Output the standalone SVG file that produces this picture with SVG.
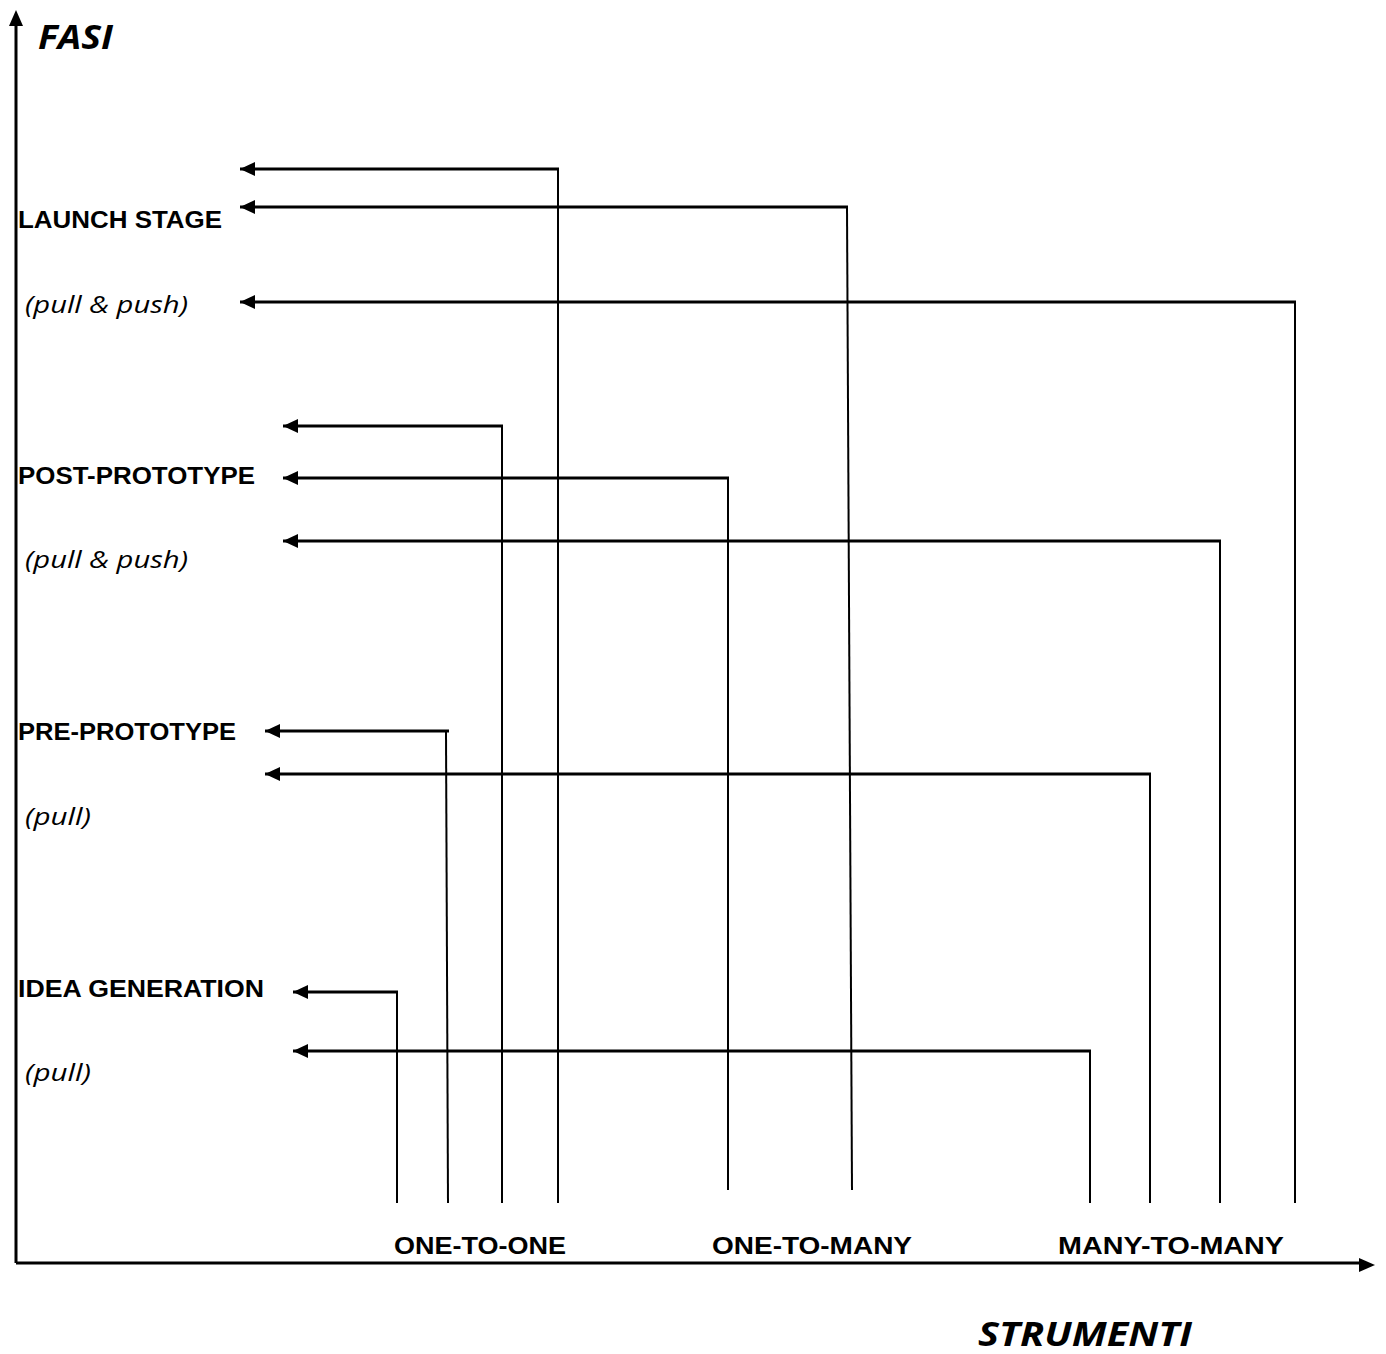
<svg xmlns="http://www.w3.org/2000/svg" width="1386" height="1354" viewBox="0 0 1386 1354">
  <style>
    .axis { stroke: #000; stroke-width: 3; fill: none; }
    .h { stroke: #000; stroke-width: 3; fill: none; }
    .v { stroke: #000; stroke-width: 2; fill: none; }
    text { fill: #000; }
    .phase, .tool { font-family: "Liberation Sans", Arial, sans-serif; font-weight: bold; font-size: 23px; }
    .mode { font-family: "Open Sans", "Liberation Sans", sans-serif; font-style: italic; font-size: 23px; }
    .title { font-family: "Open Sans", "Liberation Sans", sans-serif; font-weight: bold; font-style: italic; font-size: 34px; }
  </style>
  <defs>
    <marker id="head" markerWidth="15" markerHeight="14" refX="15" refY="7" orient="auto" markerUnits="userSpaceOnUse">
      <path d="M0,0 L15,7 L0,14 Z" fill="#000"/>
    </marker>
  </defs>
  <rect width="1386" height="1354" fill="#fff"/>

  <!-- axes -->
  <g id="axes">
    <path class="axis" d="M16,1263 L16,24"/>
    <path d="M16,10 L23,26 L9,26 Z" fill="#000"/>
    <path class="axis" d="M16,1263 L1360,1263"/>
    <path d="M1375,1265 L1359,1258 L1359,1272 Z" fill="#000"/>
  </g>

  <!-- axis titles -->
  <g id="axis-titles">
    <text class="title" x="38" y="49" textLength="75" lengthAdjust="spacingAndGlyphs">FASI</text>
    <text class="title" x="978" y="1346" textLength="214" lengthAdjust="spacingAndGlyphs">STRUMENTI</text>
  </g>

  <!-- phases -->
  <g id="launch-stage">
    <text class="phase" x="18" y="228" textLength="204" lengthAdjust="spacingAndGlyphs">LAUNCH STAGE</text>
    <text class="mode" x="25" y="313" textLength="163" lengthAdjust="spacingAndGlyphs">(pull &amp; push)</text>
  </g>
  <g id="post-prototype">
    <text class="phase" x="18" y="484" textLength="237" lengthAdjust="spacingAndGlyphs">POST-PROTOTYPE</text>
    <text class="mode" x="25" y="568" textLength="163" lengthAdjust="spacingAndGlyphs">(pull &amp; push)</text>
  </g>
  <g id="pre-prototype">
    <text class="phase" x="18" y="740" textLength="218" lengthAdjust="spacingAndGlyphs">PRE-PROTOTYPE</text>
    <text class="mode" x="25" y="825" textLength="66" lengthAdjust="spacingAndGlyphs">(pull)</text>
  </g>
  <g id="idea-generation">
    <text class="phase" x="18" y="997" textLength="246" lengthAdjust="spacingAndGlyphs">IDEA GENERATION</text>
    <text class="mode" x="25" y="1081" textLength="66" lengthAdjust="spacingAndGlyphs">(pull)</text>
  </g>

  <!-- tools -->
  <g id="one-to-one"><text class="tool" x="394" y="1254" textLength="172" lengthAdjust="spacingAndGlyphs">ONE-TO-ONE</text></g>
  <g id="one-to-many"><text class="tool" x="712" y="1254" textLength="200" lengthAdjust="spacingAndGlyphs">ONE-TO-MANY</text></g>
  <g id="many-to-many"><text class="tool" x="1058" y="1254" textLength="226" lengthAdjust="spacingAndGlyphs">MANY-TO-MANY</text></g>

  <!-- connectors: vertical risers from the tool axis, turning left to each phase -->
  <g id="connectors">
    <path class="v" d="M558,1203 L558,169"/>
    <path class="h" d="M559,169 L240,169" marker-end="url(#head)"/>

    <path class="v" d="M852,1190 L847,207"/>
    <path class="h" d="M848,207 L240,207" marker-end="url(#head)"/>

    <path class="v" d="M1295,1203 L1295,302"/>
    <path class="h" d="M1296,302 L240,302" marker-end="url(#head)"/>

    <path class="v" d="M502,1203 L502,426"/>
    <path class="h" d="M503,426 L283,426" marker-end="url(#head)"/>

    <path class="v" d="M728,1190 L728,478"/>
    <path class="h" d="M729,478 L283,478" marker-end="url(#head)"/>

    <path class="v" d="M1220,1203 L1220,541"/>
    <path class="h" d="M1221,541 L283,541" marker-end="url(#head)"/>

    <path class="v" d="M448,1203 L446,731"/>
    <path class="h" d="M449,731 L265,731" marker-end="url(#head)"/>

    <path class="v" d="M1150,1203 L1150,774"/>
    <path class="h" d="M1151,774 L265,774" marker-end="url(#head)"/>

    <path class="v" d="M397,1203 L397,992"/>
    <path class="h" d="M398,992 L293,992" marker-end="url(#head)"/>

    <path class="v" d="M1090,1203 L1090,1051"/>
    <path class="h" d="M1091,1051 L293,1051" marker-end="url(#head)"/>
  </g>
</svg>
